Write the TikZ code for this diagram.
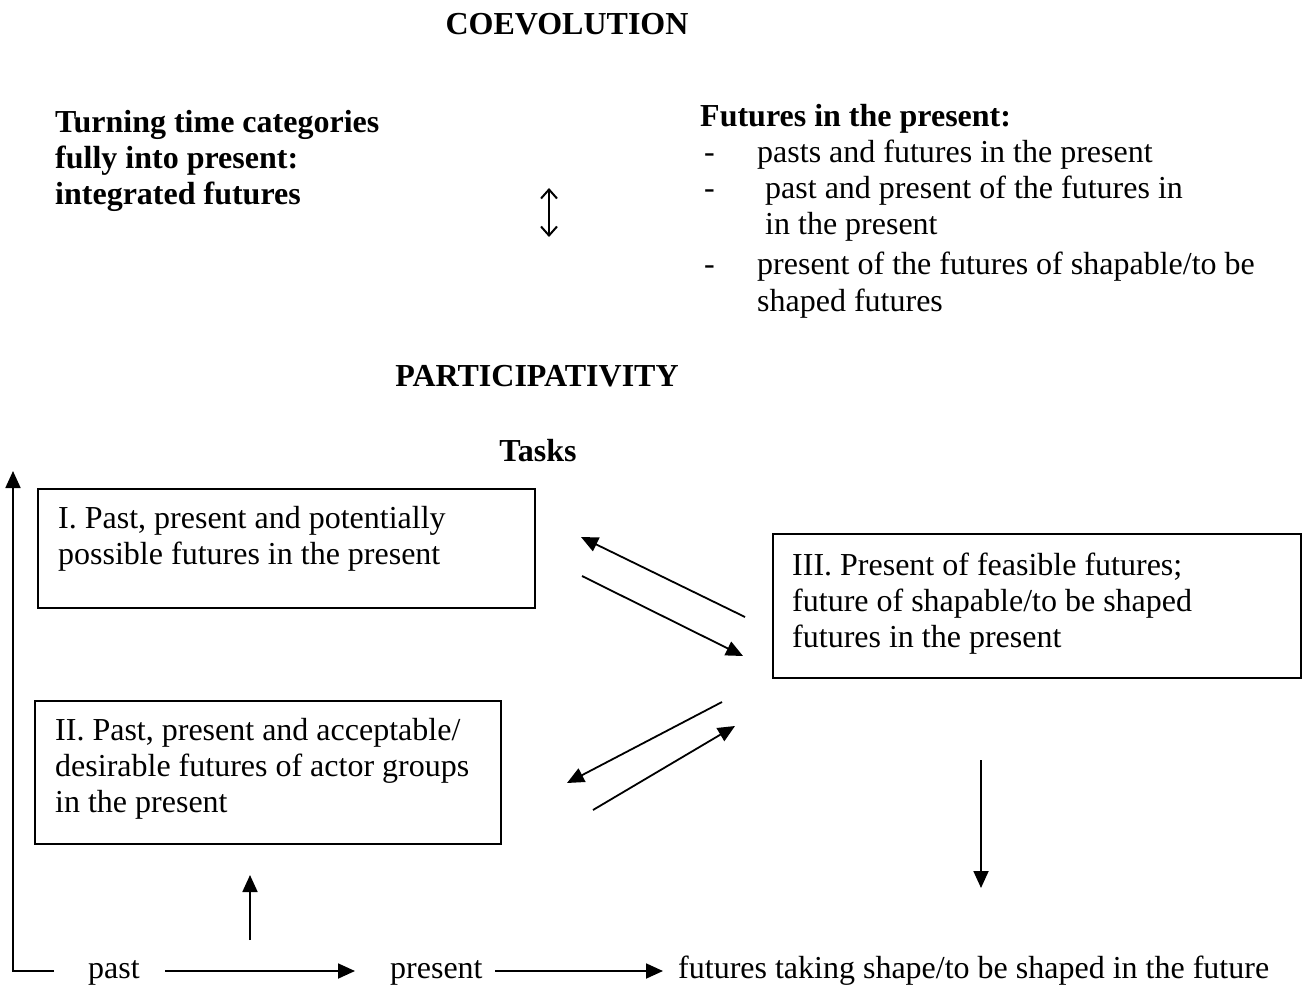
\documentclass[tikz,border=0pt]{standalone}
\usepackage{fontspec}
\setmainfont{Liberation Serif}
\usetikzlibrary{arrows.meta}
\begin{document}
\begin{tikzpicture}[x=1pt,y={(0pt,-1pt)},
  txt/.style={inner sep=0pt, anchor=north west, align=left,
              font=\fontsize{32}{36.3}\selectfont},
  head/.style={inner sep=0pt, anchor=base,
              font=\fontsize{32}{36.3}\selectfont\bfseries},
  word/.style={inner sep=0pt, anchor=base west,
              font=\fontsize{32}{36.3}\selectfont},
  frame/.style={draw, line width=1.8pt, inner sep=0pt, anchor=north west},
  arr/.style={line width=1.8pt, -{Triangle[length=17pt,width=15pt]}},
  dbl/.style={line width=2pt, {Straight Barb[length=9pt,width=16pt,line width=2pt]}-{Straight Barb[length=9pt,width=16pt,line width=2pt]}}]
\useasboundingbox (0,0) rectangle (1311,987);

% headings
\node[head] (coev) at (567,35) {COEVOLUTION};
\node[head] (part) at (537,386) {PARTICIPATIVITY};
\node[head] (tasks) at (538,461) {Tasks};

% upper left and right blocks
\node[txt, font=\fontsize{32}{36.3}\selectfont\bfseries] (integ) at (55,106.4)
  {\strut Turning time categories\\ fully into present:\\ integrated futures};
\node[txt, font=\fontsize{32}{36.3}\selectfont\bfseries] (fhead) at (700,100.4)
  {\strut Futures in the present:};
\node[txt] (flist) at (704,136.4)
  {\strut\makebox[53pt][l]{-}pasts and futures in the present\\
   \makebox[53pt][l]{-} past and present of the futures in\\
   \hspace*{53pt} in the present\\[4pt]
   \makebox[53pt][l]{-}present of the futures of shapable/to be\\
   \hspace*{53pt}shaped futures};

\coordinate (dtop) at (549,188);
\coordinate (dbot) at (549,237);
\draw[dbl] (dtop) -- (dbot);

% task boxes
\node[frame, minimum width=497pt, minimum height=119pt] (boxI) at (37,488) {};
\node[frame, minimum width=528pt, minimum height=144pt] (boxIII) at (772,533) {};
\node[frame, minimum width=466pt, minimum height=143pt] (boxII) at (34,700) {};

\node[txt] (tI) at (58,502.4)
  {\strut I. Past, present and potentially\\ possible futures in the present};
\node[txt] (tIII) at (792,549.4)
  {\strut III. Present of feasible futures;\\ future of shapable/to be shaped\\ futures in the present};
\node[txt] (tII) at (55,714.6)
  {\strut II. Past, present and acceptable/\\ desirable futures of actor groups\\ in the present};

% exchanges between the boxes
\coordinate (a1s) at (745,617); \coordinate (a1e) at (581,537);
\coordinate (a2s) at (582,576); \coordinate (a2e) at (743,656);
\coordinate (a3s) at (722,702); \coordinate (a3e) at (567,783);
\coordinate (a4s) at (593,810); \coordinate (a4e) at (735,726);
\draw[arr] (a1s) -- (a1e);
\draw[arr] (a2s) -- (a2e);
\draw[arr] (a3s) -- (a3e);
\draw[arr] (a4s) -- (a4e);

\coordinate (downs) at (981,760); \coordinate (downe) at (981,888);
\draw[arr] (downs) -- (downe);
\coordinate (ups) at (250,940); \coordinate (upe) at (250,875);
\draw[arr] (ups) -- (upe);

% time line
\node[word] (past) at (88,978) {past};
\node[word] (present) at (390,978) {present};
\node[word] (future) at (678,978) {futures taking shape/to be shaped in the future};

\coordinate (pastL) at (54,971);
\coordinate (corner) at (13,971);
\coordinate (looptop) at (13,471);
\draw[arr] (pastL) -- (corner) -- (looptop);

\coordinate (p1) at (165,971); \coordinate (p2) at (355,971);
\coordinate (p3) at (495,971); \coordinate (p4) at (663,971);
\draw[arr] (p1) -- (p2);
\draw[arr] (p3) -- (p4);
\end{tikzpicture}
\end{document}
